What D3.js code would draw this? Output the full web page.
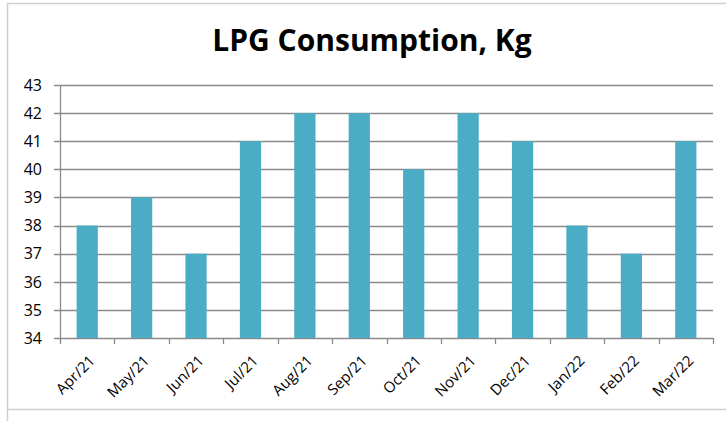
<!DOCTYPE html>
<html>
<head>
<meta charset="utf-8">
<script src="https://cdn.jsdelivr.net/npm/d3@7"></script>
<style>
    body { margin: 0; background: #fff; }
    text { font-family: "Open Sans", sans-serif; fill: #000; }
</style>
</head>
<body>
<script>
"use strict";

// chart data
const months = ["Apr/21", "May/21", "Jun/21", "Jul/21", "Aug/21", "Sep/21",
    "Oct/21", "Nov/21", "Dec/21", "Jan/22", "Feb/22", "Mar/22"]
const consumption = [38, 39, 37, 41, 42, 42, 40, 42, 41, 38, 37, 41]
const yTicks = [34, 35, 36, 37, 38, 39, 40, 41, 42, 43]
const title = "LPG Consumption, Kg"

const measurements = {
    width: 726,
    height: 421,
    left: 60,
    right: 713,
    top: 85,
    bottom: 338
}

const svg = d3.select("body").append("svg")
    .attr("width", measurements.width)
    .attr("height", measurements.height)

// outer chart frame (right side is cut off in the picture)
svg.append("path")
    .attr("d", "M7.5,421 V3.5 H726 M7.5,409.5 H726")
    .attr("fill", "none")
    .attr("stroke", "#cfcfcf")
    .attr("stroke-width", 1.5)

svg.append("text")
    .attr("x", 372)
    .attr("y", 51)
    .attr("text-anchor", "middle")
    .style("font-size", "30px")
    .style("font-weight", "bold")
    .text(title)

const scaleX = d3.scaleBand()
    .domain(months)
    .range([measurements.left, measurements.right])
    .padding(0)

const scaleY = d3.scaleLinear()
    .domain([34, 43])
    .range([measurements.bottom, measurements.top])

// gridlines + y ticks
svg.append("g")
    .selectAll("line")
    .data(yTicks)
    .enter()
    .append("line")
        .attr("x1", measurements.left - 6)
        .attr("x2", measurements.right)
        .attr("y1", d => Math.round(scaleY(d)) + 0.5)
        .attr("y2", d => Math.round(scaleY(d)) + 0.5)
        .attr("stroke", "#8a8a8a")
        .attr("stroke-width", 1.3)

svg.append("g")
    .selectAll("text")
    .data(yTicks)
    .enter()
    .append("text")
        .attr("x", 42)
        .attr("y", d => scaleY(d))
        .attr("dy", "0.36em")
        .attr("text-anchor", "end")
        .style("font-size", "16px")
        .text(d => d)

// bars
const barW = scaleX.bandwidth() * 0.39
svg.append("g")
    .selectAll("rect")
    .data(consumption)
    .enter()
    .append("rect")
        .attr("x", (d, i) => scaleX(months[i]) + scaleX.bandwidth() / 2 - barW / 2)
        .attr("y", d => scaleY(d))
        .attr("width", barW)
        .attr("height", d => scaleY(34) - scaleY(d))
        .attr("fill", "#4bacc6")

// y axis line
svg.append("line")
    .attr("x1", measurements.left + 0.5)
    .attr("x2", measurements.left + 0.5)
    .attr("y1", measurements.top)
    .attr("y2", measurements.bottom)
    .attr("stroke", "#8a8a8a")
    .attr("stroke-width", 1.3)

// x ticks sit on band edges, like Excel
const edges = months.map(m => scaleX(m)).concat([measurements.right])
svg.append("g")
    .selectAll("line")
    .data(edges)
    .enter()
    .append("line")
        .attr("x1", d => Math.round(d) + 0.5)
        .attr("x2", d => Math.round(d) + 0.5)
        .attr("y1", measurements.bottom)
        .attr("y2", measurements.bottom + 6)
        .attr("stroke", "#8a8a8a")
        .attr("stroke-width", 1.3)

svg.append("g")
    .selectAll("text")
    .data(months)
    .enter()
    .append("text")
        .attr("transform", d => "translate(" + (scaleX(d) + scaleX.bandwidth() / 2 + 5) + "," + (measurements.bottom + 20) + ")rotate(-45)")
        .attr("text-anchor", "end")
        .attr("dy", "0.35em")
        .style("font-size", "15px")
        .text(d => d)
</script>
</body>
</html>
